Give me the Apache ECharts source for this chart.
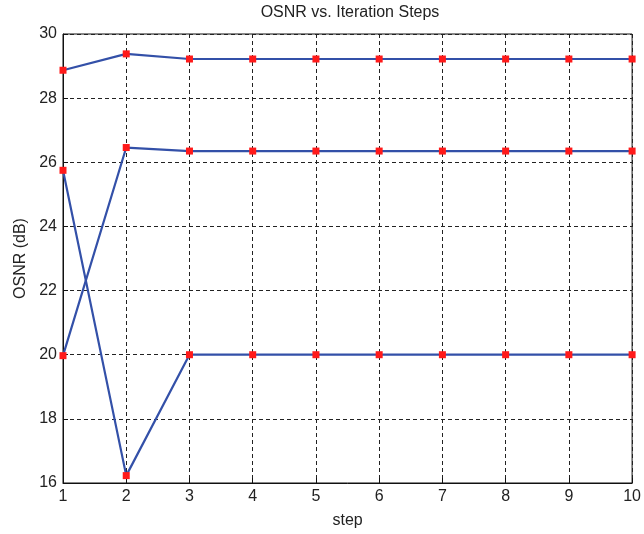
<!DOCTYPE html>
<html><head><meta charset="utf-8">
<script src="https://cdn.jsdelivr.net/npm/echarts@6/dist/echarts.min.js"></script>
<style>html,body{margin:0;padding:0;background:#fff}#c{width:644px;height:534px}</style>
</head><body><div id="c"></div>
<script>
const steps = [1,2,3,4,5,6,7,8,9,10];
const seriesTop = [28.87,29.38,29.22,29.22,29.22,29.22,29.22,29.22,29.22,29.22];
const seriesMid = [19.97,26.46,26.35,26.35,26.35,26.35,26.35,26.35,26.35,26.35];
const seriesLow = [25.75,16.23,20.0,20.0,20.0,20.0,20.0,20.0,20.0,20.0];
const yTicks = [16,18,20,22,24,26,28,30];
const titleText = 'OSNR vs. Iteration Steps';

const font = 'Liberation Sans, Arial, sans-serif';
const mk = (vals) => ({
  type:'line', data: steps.map((s,i)=>[s,vals[i]]),
  symbol:'rect', symbolSize:7, showSymbol:true,
  itemStyle:{color:'#ff1a1a'},
  lineStyle:{color:'#3350a8', width:2.2},
  emphasis:{disabled:true}, animation:false, z:3
});
const chart = echarts.init(document.getElementById('c'), null, {renderer:'canvas'});
chart.setOption({
  animation:false,
  backgroundColor:'#fff',
  graphic:[{type:'text', x:350, y:5, style:{text:titleText, font:'16px '+font, fill:'#222', textAlign:'center', textVerticalAlign:'top'}}],
  grid:{left:63, right:8, top:34, bottom:48, show:true, borderColor:'#111', borderWidth:1},
  xAxis:{type:'value', min:1, max:10, interval:1, name:'step', nameLocation:'middle', nameGap:30,
    nameTextStyle:{fontFamily:font, fontSize:16, color:'#222'},
    axisLine:{lineStyle:{color:'#111'}}, axisTick:{inside:true, length:5, lineStyle:{color:'#111'}},
    axisLabel:{fontFamily:font, fontSize:16, color:'#222', margin:6},
    splitLine:{show:true, lineStyle:{color:'#222', type:[4,3], width:1}}},
  yAxis:{type:'value', min:16, max:30, interval:2, name:'OSNR (dB)', nameLocation:'middle', nameGap:34,
    nameTextStyle:{fontFamily:font, fontSize:16, color:'#222'},
    axisLine:{show:true, lineStyle:{color:'#111'}}, axisTick:{show:true, inside:true, length:5, lineStyle:{color:'#111'}},
    axisLabel:{fontFamily:font, fontSize:16, color:'#222', margin:6, formatter:(v)=>yTicks.includes(v)?String(v):''},
    splitLine:{show:true, lineStyle:{color:'#222', type:[4,3], width:1}}},
  series:[mk(seriesTop), mk(seriesMid), mk(seriesLow)]
});
</script></body></html>
